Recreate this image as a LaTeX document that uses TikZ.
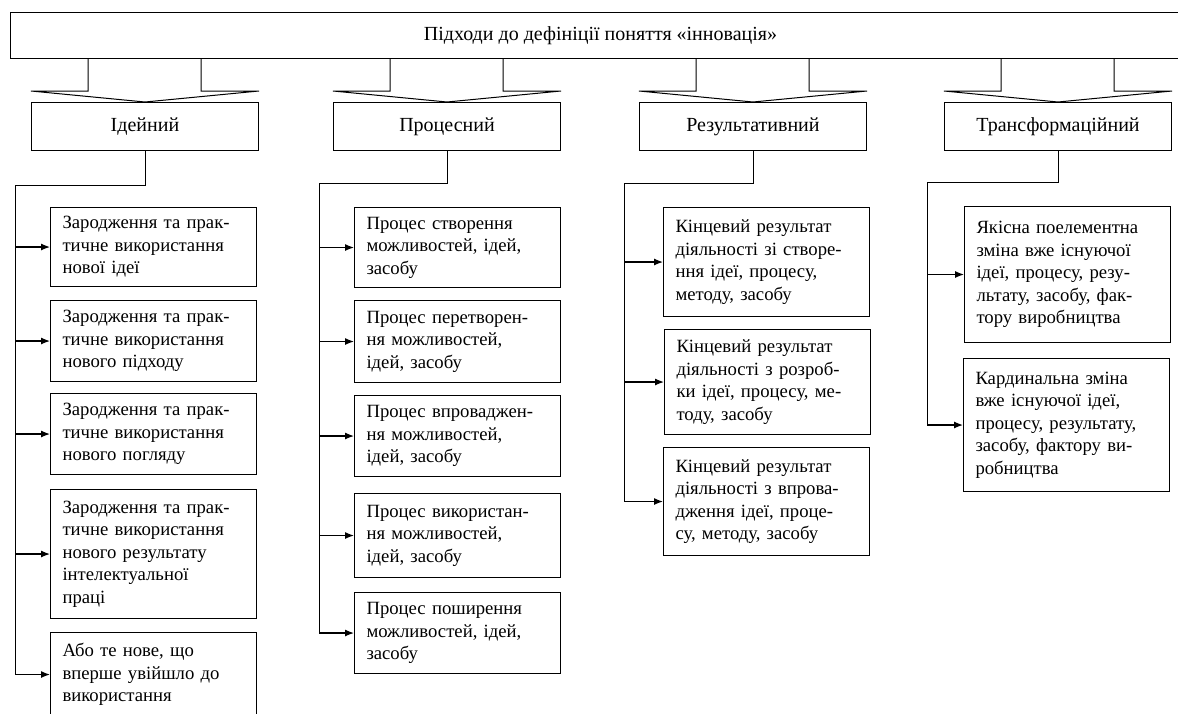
\documentclass[tikz,border=0pt]{standalone}
\usepackage{fontspec}
\setmainfont{Liberation Serif}
\usetikzlibrary{arrows.meta}

\begin{document}
\begin{tikzpicture}[x=1pt, y=-1pt,
    topbox/.style = {draw, line width=1pt, minimum width=1180pt, minimum height=46pt, anchor=north west, inner sep=0pt},
    head/.style = {draw, line width=1pt, minimum width=227pt, minimum height=48pt, anchor=north west, inner sep=0pt},
    item/.style = {draw, line width=1pt, text width=182pt, inner xsep=12pt, align=left, anchor=north west, font=\fontsize{18.7}{22.5}\selectfont},
    link/.style = {line width=1pt},
    arr/.style = {line width=1.2pt, -{Latex[length=9pt, width=7pt]}},
    every node/.style = {font=\fontsize{20}{22.5}\selectfont}]

    \useasboundingbox (0,0) rectangle (1178,713);
    \clip (0,0) rectangle (1178,713);

    % 1. Заголовок
    \node[topbox] (top) at (10,12) {Підходи до дефініції поняття «інновація»};

    % 2. Підходи
    \node[head] (h1) at (31,102) {Ідейний};
    \node[head] (h2) at (333,102) {Процесний};
    \node[head] (h3) at (639,102) {Результативний};
    \node[head] (h4) at (944,102) {Трансформаційний};

    % 3. Широкі стрілки від заголовка до підходів
    \coordinate (a1) at (88,91);  \coordinate (b1) at (201,91);
    \coordinate (a2) at (390,91); \coordinate (b2) at (503,91);
    \coordinate (a3) at (696,91); \coordinate (b3) at (809,91);
    \coordinate (a4) at (1001,91); \coordinate (b4) at (1114,91);
    \draw[link] (top.south -| a1) -- (a1) -- (h1.north west |- a1) -- (h1.north) -- (h1.north east |- a1) -- (b1) -- (top.south -| b1);
    \draw[link] (top.south -| a2) -- (a2) -- (h2.north west |- a2) -- (h2.north) -- (h2.north east |- a2) -- (b2) -- (top.south -| b2);
    \draw[link] (top.south -| a3) -- (a3) -- (h3.north west |- a3) -- (h3.north) -- (h3.north east |- a3) -- (b3) -- (top.south -| b3);
    \draw[link] (top.south -| a4) -- (a4) -- (h4.north west |- a4) -- (h4.north) -- (h4.north east |- a4) -- (b4) -- (top.south -| b4);

    % 4. Ідейний
    \node[item, minimum height=79pt] (i11) at (50,207) {Зародження та прак-\\тичне використання\\нової ідеї};
    \node[item, minimum height=81pt] (i12) at (50,300) {Зародження та прак-\\тичне використання\\нового підходу};
    \node[item, minimum height=81pt] (i13) at (50,393) {Зародження та прак-\\тичне використання\\нового погляду};
    \node[item, minimum height=129pt] (i14) at (50,489) {Зародження та прак-\\тичне використання\\нового результату\\інтелектуальної\\праці};
    \node[item, minimum height=84pt] (i15) at (50,632) {Або те нове, що\\вперше увійшло до\\використання};

    % 5. Процесний
    \node[item, minimum height=80pt] (i21) at (354,207) {Процес створення\\можливостей, ідей,\\засобу};
    \node[item, minimum height=82pt] (i22) at (354,300) {Процес перетворен-\\ня можливостей,\\ідей, засобу};
    \node[item, minimum height=81pt] (i23) at (354,395) {Процес впроваджен-\\ня можливостей,\\ідей, засобу};
    \node[item, minimum height=84pt] (i24) at (354,493) {Процес використан-\\ня можливостей,\\ідей, засобу};
    \node[item, minimum height=81pt] (i25) at (354,592) {Процес поширення\\можливостей, ідей,\\засобу};

    % 6. Результативний
    \node[item, minimum height=109pt] (i31) at (663,207) {Кінцевий результат\\діяльності зі створе-\\ння ідеї, процесу,\\методу, засобу};
    \node[item, minimum height=105pt] (i32) at (664,329) {Кінцевий результат\\діяльності з розроб-\\ки ідеї, процесу, ме-\\тоду, засобу};
    \node[item, minimum height=108pt] (i33) at (663,447) {Кінцевий результат\\діяльності з впрова-\\дження ідеї, проце-\\су, методу, засобу};

    % 7. Трансформаційний
    \node[item, minimum height=136pt] (i41) at (964,206) {Якісна поелементна\\зміна вже існуючої\\ідеї, процесу, резу-\\льтату, засобу, фак-\\тору виробництва};
    \node[item, minimum height=133pt] (i42) at (963,358) {Кардинальна зміна\\вже існуючої ідеї,\\процесу, результату,\\засобу, фактору ви-\\робництва};

    % 8. Лінії та стрілки до блоків
    \coordinate (r1) at (15,185);
    \coordinate (r2) at (319,183);
    \coordinate (r3) at (624,183);
    \coordinate (r4) at (927,182);
    \draw[link] (h1.south) |- (r1) -- (r1 |- i15.west);
    \draw[link] (h2.south) |- (r2) -- (r2 |- i25.west);
    \draw[link] (h3.south) |- (r3) -- (r3 |- i33.west);
    \draw[link] (h4.south) |- (r4) -- (r4 |- i42.west);

    \draw[arr] (r1 |- i11.west) -- (i11.west);
    \draw[arr] (r1 |- i12.west) -- (i12.west);
    \draw[arr] (r1 |- i13.west) -- (i13.west);
    \draw[arr] (r1 |- i14.west) -- (i14.west);
    \draw[arr] (r1 |- i15.west) -- (i15.west);
    \draw[arr] (r2 |- i21.west) -- (i21.west);
    \draw[arr] (r2 |- i22.west) -- (i22.west);
    \draw[arr] (r2 |- i23.west) -- (i23.west);
    \draw[arr] (r2 |- i24.west) -- (i24.west);
    \draw[arr] (r2 |- i25.west) -- (i25.west);
    \draw[arr] (r3 |- i31.west) -- (i31.west);
    \draw[arr] (r3 |- i32.west) -- (i32.west);
    \draw[arr] (r3 |- i33.west) -- (i33.west);
    \draw[arr] (r4 |- i41.west) -- (i41.west);
    \draw[arr] (r4 |- i42.west) -- (i42.west);
\end{tikzpicture}
\end{document}
